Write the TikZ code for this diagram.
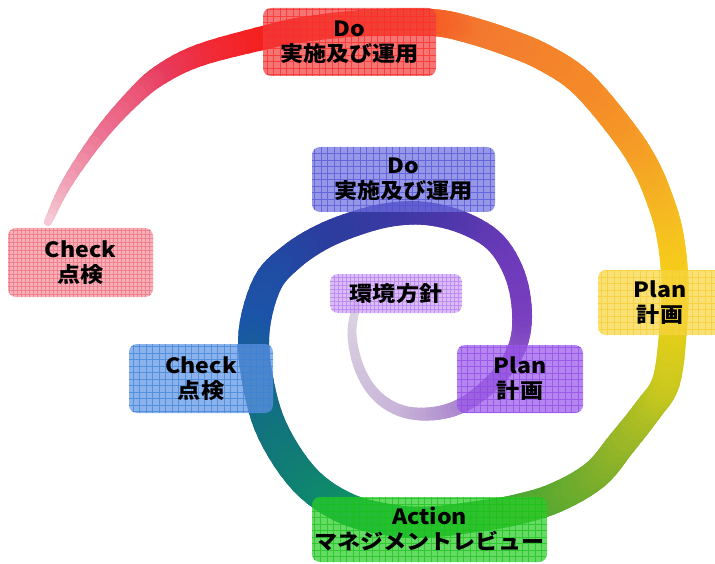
\documentclass[tikz,border=0pt]{standalone}
\usepackage{fontspec}
\newfontfamily\jpfont{Noto Sans CJK JP}[FakeStretch=1.1]

% spiral colour stops s0 ... s22
\definecolor{s0}{HTML}{DDD5E2}
\definecolor{s1}{HTML}{C8B4D8}
\definecolor{s2}{HTML}{9A6CC8}
\definecolor{s3}{HTML}{7A3FC0}
\definecolor{s4}{HTML}{6A3AB8}
\definecolor{s5}{HTML}{4A36A8}
\definecolor{s6}{HTML}{2C3C9E}
\definecolor{s7}{HTML}{1A55A8}
\definecolor{s8}{HTML}{12727F}
\definecolor{s9}{HTML}{0E8C68}
\definecolor{s10}{HTML}{1EA53C}
\definecolor{s11}{HTML}{5AA830}
\definecolor{s12}{HTML}{92B428}
\definecolor{s13}{HTML}{C8C81E}
\definecolor{s14}{HTML}{F6D218}
\definecolor{s15}{HTML}{F5B822}
\definecolor{s16}{HTML}{F58A28}
\definecolor{s17}{HTML}{F27A30}
\definecolor{s18}{HTML}{F85020}
\definecolor{s19}{HTML}{F81C16}
\definecolor{s20}{HTML}{E83A5C}
\definecolor{s21}{HTML}{EC7090}
\definecolor{s22}{HTML}{F5CDD8}
% band width at each stop
\def\spW{{8,12,17,20,21,23,26,31,32,32,31,30,29,28,27,27,27,27,27,24,20,14,8}}

% points of the spiral centre line and their position in the stop list
\def\spX{{356,352,360,378,405,438,468,500,518,522,515,496,466,430,395,360,322,290,267,254,258,273,305,345,390,430,480,515,555,595,622,648,666,673,675,670,660,645,622,582,545,510,470,438,400,350,300,267,200,160,133,100,67,48}}
\def\spY{{306,335,370,397,412,413,402,375,345,312,275,243,224,214,214,222,237,258,284,332,382,432,480,508,520,522,516,510,498,475,443,410,382,332,282,235,200,165,130,83,58,43,30,23,22,24,30,37,55,75,98,135,183,222}}
\def\spK{{0,0.25,0.5,0.75,1,1.33,1.67,2,2.5,3,3.5,4,4.5,5,5.33,5.67,6,6.33,6.67,7,7.5,8,8.5,9,9.5,10,10.33,10.67,11,11.5,12,12.5,13,13.5,14,14.5,15,15.33,15.67,16,16.33,16.67,17,17.5,18,18.33,18.67,19,19.5,20,20.5,21,21.5,22}}

% cubic Bezier value: #1..#4 control values, #5 parameter
\newcommand\spbez[5]{((1-#5)*(1-#5)*(1-#5)*(#1)+3*(1-#5)*(1-#5)*(#5)*(#2)+3*(1-#5)*(#5)*(#5)*(#3)+(#5)*(#5)*(#5)*(#4))}

% box colours (fill / grid)
\definecolor{doOutF}{HTML}{F13E3E}   \definecolor{doOutG}{HTML}{FF2A2A}
\definecolor{doInF}{HTML}{6F6FDE}    \definecolor{doInG}{HTML}{5050D8}
\definecolor{ckOutF}{HTML}{F3949F}   \definecolor{ckOutG}{HTML}{F06A7A}
\definecolor{plOutF}{HTML}{F7D641}   \definecolor{plOutG}{HTML}{F5CC30}
\definecolor{ckInF}{HTML}{6094E4}    \definecolor{ckInG}{HTML}{3C82D8}
\definecolor{plInF}{HTML}{9A58EA}    \definecolor{plInG}{HTML}{9048E8}
\definecolor{acF}{HTML}{2ACD2A}      \definecolor{acG}{HTML}{18C018}
\definecolor{poF}{HTML}{CDA5F5}      \definecolor{poG}{HTML}{B478F0}

\tikzset{
  pdca/.style={rounded corners=8pt, inner sep=0pt, align=center,
    font=\jpfont\bfseries\fontsize{21}{25}\selectfont,
    fill opacity=0.72, text opacity=1},
  gridfill/.style n args={3}{fill=#1,
    path picture={\draw[#2, line width=0.5pt, opacity=0.7, step=#3]
      (path picture bounding box.south west) grid (path picture bounding box.north east);}},
  band/.style={line cap=round},
}

\begin{document}
\begin{tikzpicture}[x=1pt, y=-1pt]
\useasboundingbox (0,0) rectangle (715,564);
\clip (0,0) rectangle (715,564);

% the spiral band, from the centre outwards (Catmull-Rom through the points,
% each span cut into short pieces of their own colour and width)
\foreach \i in {0,...,52}{
  \pgfmathtruncatemacro\spia{max(\i-1,0)}
  \pgfmathtruncatemacro\spib{\i+1}
  \pgfmathtruncatemacro\spic{min(\i+2,53)}
  \pgfmathsetmacro\spxa{\spX[\spia]}\pgfmathsetmacro\spya{\spY[\spia]}
  \pgfmathsetmacro\spxo{\spX[\i]}\pgfmathsetmacro\spyo{\spY[\i]}
  \pgfmathsetmacro\spxt{\spX[\spib]}\pgfmathsetmacro\spyt{\spY[\spib]}
  \pgfmathsetmacro\spxc{\spX[\spic]}\pgfmathsetmacro\spyc{\spY[\spic]}
  \pgfmathsetmacro\spxq{\spxo+(\spxt-\spxa)/6}\pgfmathsetmacro\spyq{\spyo+(\spyt-\spya)/6}
  \pgfmathsetmacro\spxr{\spxt-(\spxc-\spxo)/6}\pgfmathsetmacro\spyr{\spyt-(\spyc-\spyo)/6}
  \pgfmathsetmacro\spko{\spK[\i]}\pgfmathsetmacro\spkt{\spK[\spib]}
  \foreach \j in {1,...,6}{
    \pgfmathsetmacro\spts{(\j-1)/6}\pgfmathsetmacro\spte{\j/6}
    \pgfmathsetmacro\spxs{\spbez{\spxo}{\spxq}{\spxr}{\spxt}{\spts}}
    \pgfmathsetmacro\spys{\spbez{\spyo}{\spyq}{\spyr}{\spyt}{\spts}}
    \pgfmathsetmacro\spxe{\spbez{\spxo}{\spxq}{\spxr}{\spxt}{\spte}}
    \pgfmathsetmacro\spye{\spbez{\spyo}{\spyq}{\spyr}{\spyt}{\spte}}
    \pgfmathsetmacro\spkk{\spko+(\spkt-\spko)*(\j-0.5)/6}
    \pgfmathtruncatemacro\spkf{min(floor(\spkk),21)}
    \pgfmathtruncatemacro\spkn{\spkf+1}
    \pgfmathsetmacro\spfr{\spkk-\spkf}
    \pgfmathsetmacro\sppc{100*\spfr}
    \pgfmathsetmacro\spww{\spW[\spkf]+(\spW[\spkn]-\spW[\spkf])*\spfr}
    \colorlet{spc}{s\spkn!\sppc!s\spkf}
    \draw[band, spc, line width=\spww pt] (\spxs,\spys) -- (\spxe,\spye);
  }
}

% labels
\node[pdca, gridfill={doOutF}{doOutG}{6.5pt}, minimum width=173pt, minimum height=68pt]
  (doOut) at (349.5,42) {Do\\実施及び運用};
\node[pdca, gridfill={doInF}{doInG}{6.5pt}, minimum width=183pt, minimum height=65pt]
  (doIn) at (403.5,179.5) {Do\\実施及び運用};
\node[pdca, gridfill={ckOutF}{ckOutG}{4pt}, minimum width=145pt, minimum height=69pt]
  (checkOut) at (80.5,262.5) {Check\\点検};
\node[pdca, gridfill={plOutF}{plOutG}{6.5pt}, minimum width=124pt, minimum height=65pt]
  (planOut) at (660,302.5) {Plan\\計画};
\node[pdca, gridfill={ckInF}{ckInG}{6.5pt}, minimum width=144pt, minimum height=69pt]
  (checkIn) at (201,378.5) {Check\\点検};
\node[pdca, gridfill={plInF}{plInG}{6.5pt}, minimum width=126pt, minimum height=68pt]
  (planIn) at (520,379) {Plan\\計画};
\node[pdca, gridfill={acF}{acG}{6.5pt}, minimum width=235pt, minimum height=65pt]
  (action) at (429.5,529.5) {Action\\マネジメントレビュー};
\node[pdca, gridfill={poF}{poG}{4pt}, minimum width=132pt, minimum height=39pt]
  (policy) at (396,293.5) {環境方針};
\end{tikzpicture}
\end{document}
